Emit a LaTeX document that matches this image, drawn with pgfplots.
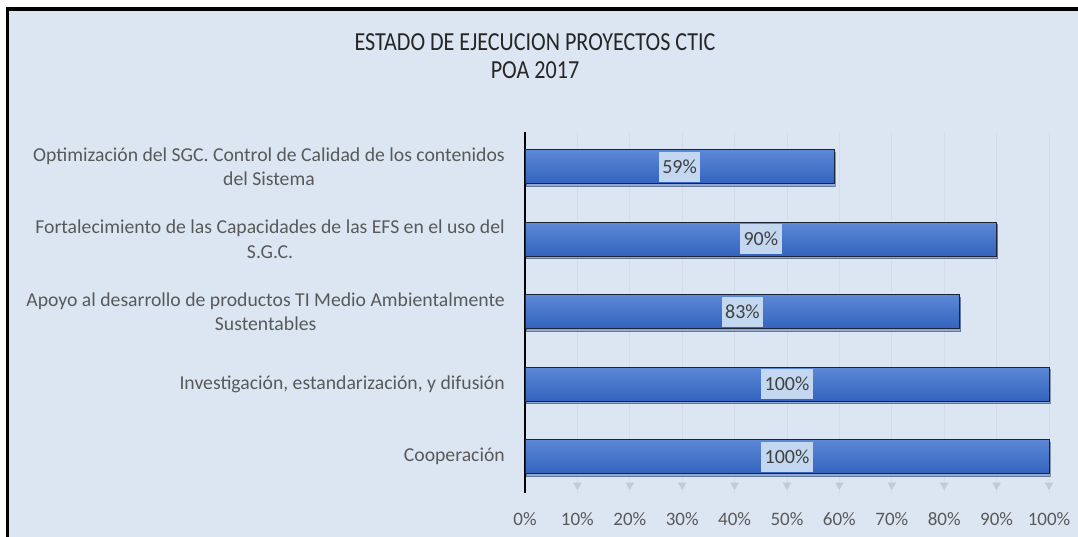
\documentclass[border=0pt]{standalone}
\usepackage{fontspec}
\setmainfont{Carlito}
\usepackage{pgfplots}
\pgfplotsset{compat=1.18}
\definecolor{bgblue}{HTML}{DCE6F2}
\definecolor{gridc}{HTML}{D3DCE8}
\definecolor{arrowc}{HTML}{C2CAD4}
\definecolor{bartop}{HTML}{5C88D6}
\definecolor{barbot}{HTML}{3363BF}
\definecolor{barline}{HTML}{1C2536}
\definecolor{lblbox}{HTML}{C3D8F0}
\definecolor{txt}{HTML}{595959}
\pgfplotsset{mybar/.style={xbar, bar width=34pt, bar shift=0pt, draw=barline, line width=1pt, top color=bartop, bottom color=barbot,
  preaction={fill=black!25, opacity=0.4, transform canvas={xshift=1pt, yshift=-2.5pt}}}}
\begin{document}
\begin{tikzpicture}[x=1pt,y=1pt]
\useasboundingbox (0,0) rectangle (1078,537);
\fill[white] (0,0) rectangle (1078,537);
\fill[bgblue] (9,0) rectangle (1078,526);
\fill[black] (6,0) rectangle (9,530);
\fill[black] (6,526) rectangle (1078,530);
\node[font=\fontsize{26}{30}\selectfont, text=black!85] at (535,495) {\scalebox{0.85}[1]{ESTADO DE EJECUCION PROYECTOS CTIC}};
\node[font=\fontsize{26}{30}\selectfont, text=black!85] at (535,467) {\scalebox{0.85}[1]{POA 2017}};
\begin{axis}[
  at={(525pt,44pt)}, anchor=south west,
  scale only axis, width=524pt, height=361pt,
  xmin=0, xmax=100, ymin=-0.5, ymax=4.48,
  xtick={0,10,...,100},
  xticklabels={0\%,10\%,20\%,30\%,40\%,50\%,60\%,70\%,80\%,90\%,100\%},
  ytick={0,1,2,3,4},
  yticklabels={Cooperación,{Investigación, estandarización, y difusión},{Apoyo al desarrollo de productos TI Medio Ambientalmente\\Sustentables},{Fortalecimiento de las Capacidades de las EFS en el uso del\\S.G.C.},{Optimización del SGC. Control de Calidad de los contenidos\\del Sistema}},
  yticklabel style={align=center, anchor=east, inner sep=0pt, xshift=-20pt, text=txt, font=\fontsize{19.7}{24.5}\selectfont},
  xticklabel style={anchor=base, inner sep=0pt, yshift=-33pt, text=txt, font=\fontsize{19}{23}\selectfont},
  xtick style={draw=none}, ytick style={draw=none},
  xmajorgrids, major grid style={draw=gridc, line width=0.8pt},
  axis lines*=left, separate axis lines,
  x axis line style={draw=none},
  y axis line style={draw=black, line width=1.6pt},
  axis background/.style={fill=bgblue},
  clip=false,
]
\addplot[only marks, mark=triangle*, mark size=4.5pt, mark options={rotate=180, fill=arrowc, draw=arrowc}]
  coordinates {(10,-0.39) (20,-0.39) (30,-0.39) (40,-0.39) (50,-0.39) (60,-0.39) (70,-0.39) (80,-0.39) (90,-0.39) (100,-0.39)};
\addplot[mybar] coordinates {(100,0)};
\addplot[mybar] coordinates {(100,1)};
\addplot[mybar] coordinates {(83,2)};
\addplot[mybar] coordinates {(90,3)};
\addplot[mybar] coordinates {(59,4)};
\addplot[draw=none, nodes near coords, point meta=explicit symbolic,
  nodes near coords style={anchor=center, fill=lblbox, text=black!75, inner xsep=3.5pt, inner ysep=0pt, text height=13pt, text depth=0pt, minimum height=30pt, font=\fontsize{20}{24}\selectfont}]
  coordinates {(50,0) [100\%] (50,1) [100\%] (41.5,2) [83\%] (45,3) [90\%] (29.5,4) [59\%]};
\end{axis}
\end{tikzpicture}
\end{document}
